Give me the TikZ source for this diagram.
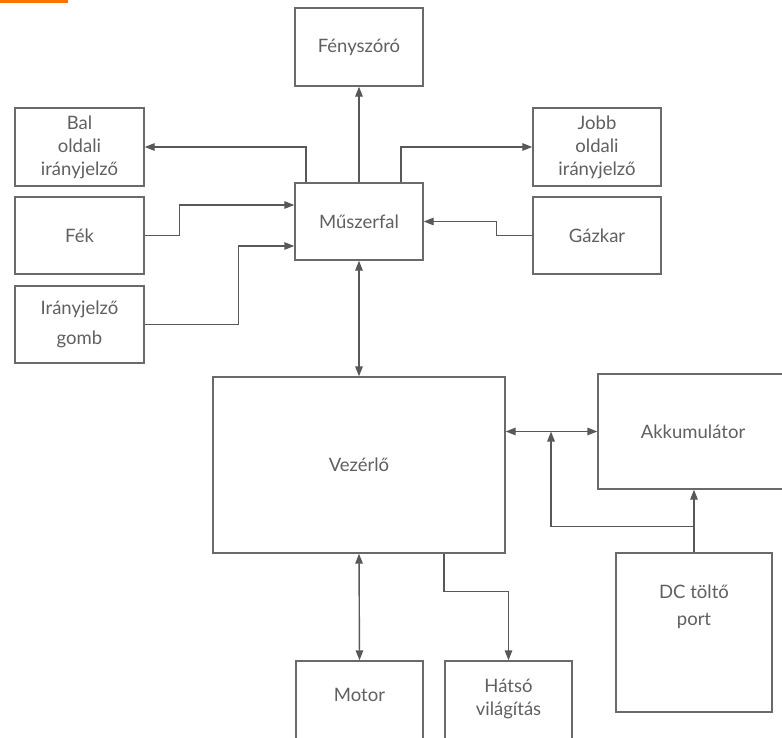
\documentclass[tikz,border=0pt]{standalone}
\usepackage{fontspec}
\setmainfont{Lato}
\usetikzlibrary{arrows.meta,calc}
\definecolor{linec}{HTML}{58585B}
\definecolor{boxc}{HTML}{6A6A6D}
\definecolor{txtc}{HTML}{606063}
\definecolor{orng}{HTML}{FF7300}
\tikzset{
  blk/.style={draw=boxc, line width=1.4pt, rectangle, inner sep=0pt, text=txtc, align=center,
    font=\fontsize{18.5}{23}\selectfont},
  lbl/.style={text=txtc, align=center, inner sep=0pt, font=\fontsize{18.5}{23}\selectfont},
  arr/.style={draw=linec, line width=1.4pt, -{Triangle[length=10pt,width=7.5pt]}},
  darr/.style={draw=linec, line width=1.4pt, {Triangle[length=10pt,width=7.5pt]}-{Triangle[length=10pt,width=7.5pt]}},
  ln/.style={draw=linec, line width=1.4pt}
}
\begin{document}
\begin{tikzpicture}[x=1pt,y=-1pt]
\clip (0,0) rectangle (782,737);
\fill[white] (0,0) rectangle (782,737);
\fill[orng] (0,0) rectangle (68,3);
% boxes
\node[blk, minimum width=128pt, minimum height=78pt] (feny) at (359,47) {Fényszóró};
\node[blk, minimum width=129pt, minimum height=78pt] (bal) at (79.5,147) {Bal\\oldali\\irányjelző};
\node[blk, minimum width=129pt, minimum height=77pt] (fek) at (79.5,235.5) {Fék};
\node[blk, minimum width=129pt, minimum height=77pt] (gomb) at (79.5,324.5) {Irányjelző\\[7pt]gomb};
\node[blk, minimum width=128pt, minimum height=77pt] (mus) at (359,221.5) {Műszerfal};
\node[blk, minimum width=128pt, minimum height=78pt] (jobb) at (597,147) {Jobb\\oldali\\irányjelző};
\node[blk, minimum width=128pt, minimum height=77pt] (gaz) at (597,235.5) {Gázkar};
\node[blk, minimum width=292pt, minimum height=176pt] (vez) at (359,465) {Vezérlő};
\node[blk, minimum width=190pt, minimum height=115pt] (akk) at (693,431.5) {Akkumulátor};
\node[blk, minimum width=156pt, minimum height=159pt] (dc) at (694,632.5) {};
\node[lbl] (dct) at (694,606.5) {DC töltő\\[4pt]port};
\node[blk, minimum width=127pt, minimum height=100pt] (mot) at (359.5,711) {};
\node[lbl] (mott) at (359.5,695) {Motor};
\node[blk, minimum width=127pt, minimum height=100pt] (hat) at (508.5,711) {};
\node[lbl] (hatt) at (508.5,698.5) {Hátsó\\világítás};
% connectors
\draw[arr] (mus.north) -- (feny.south);
\draw[arr] ([xshift=-53pt]mus.north) |- (bal.east);
\draw[arr] ([xshift=42pt]mus.north) |- (jobb.west);
\draw[arr] (fek.east) -- ++(35,0) |- ([yshift=16.5pt]mus.west);
\draw[arr] (gomb.east) -- ++(94,0) |- ([yshift=-24.5pt]mus.west);
\draw[arr] (gaz.west) -- ++(-36,0) |- (mus.east);
\draw[darr] (mus.south) -- (vez.north);
\draw[darr] (akk.west -| vez.east) -- (akk.west);
\coordinate (jn) at (551,431.5);
\draw[arr] (dc.north) -- (dc.north |- akk.south);
\draw[arr] ($(dc.north)+(0,-26)$) -| (jn);
\draw[darr] (vez.south) -- (mot.north);
\draw[arr] ([xshift=85pt]vez.south) -- ++(0,38) -| (hat.north);
\end{tikzpicture}
\end{document}
